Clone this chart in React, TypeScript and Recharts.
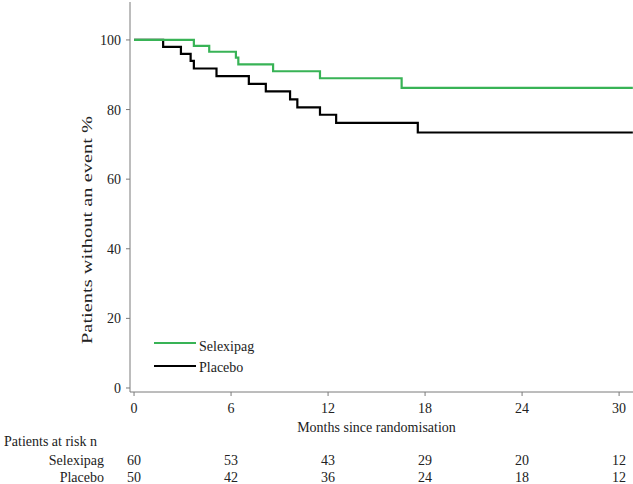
import { LineChart, Line, XAxis, YAxis, Legend } from "recharts";

// Kaplan-Meier steps (months, % without event)
const selexipagTimes = [0, 3.7, 4.65, 6.3, 6.45, 8.6, 11.5, 16.55, 30.85];
const selexipagSurv = [100, 98.3, 96.6, 94.9, 93.0, 91.0, 89.0, 86.2, 86.2];

const placeboTimes = [0, 1.8, 2.9, 3.5, 3.7, 5.1, 7.1, 8.15, 9.65, 10.1, 11.5, 12.5, 17.55, 30.85];
const placeboSurv = [100, 98, 96, 94, 91.8, 89.6, 87.4, 85.2, 82.9, 80.6, 78.5, 76.2, 73.4, 73.4];

const seriesNames = ["Selexipag", "Placebo"];
const monthTicks = [0, 6, 12, 18, 24, 30];
const yTicks = [0, 20, 40, 60, 80, 100];
const selexipagAtRisk = [60, 53, 43, 29, 20, 12];
const placeboAtRisk = [50, 42, 36, 24, 18, 12];

const GREEN = "#38b356";
const AXIS = "#7a7a7a";
const TEXT = "#222";
const FONT = "'Liberation Serif', 'Times New Roman', serif";

const selexipagData = selexipagTimes.map((t, i) => ({ t, v: selexipagSurv[i] }));
const placeboData = placeboTimes.map((t, i) => ({ t, v: placeboSurv[i] }));

// x tick with the at-risk counts hung underneath
const MonthTick = (props: any) => {
  const { x, y, payload } = props;
  const idx = monthTicks.indexOf(payload.value);
  return (
    <g fontFamily={FONT} fontSize={14} fill={TEXT}>
      <text x={x} y={y} dy="0.71em" textAnchor="middle">
        {payload.value}
      </text>
      <text x={x} y={y + 62} textAnchor="middle">
        {selexipagAtRisk[idx]}
      </text>
      <text x={x} y={y + 79} textAnchor="middle">
        {placeboAtRisk[idx]}
      </text>
    </g>
  );
};

const renderLegend = (props: any) => {
  const items = [...(props.payload || [])].sort(
    (a: any, b: any) => seriesNames.indexOf(a.value) - seriesNames.indexOf(b.value)
  );
  return (
    <svg width={130} height={45}>
      {items.map((entry: any, i: number) => (
        <g key={entry.value}>
          <line
            x1={4}
            x2={46}
            y1={9 + i * 23}
            y2={9 + i * 23}
            stroke={entry.color}
            strokeWidth={2.2}
          />
          <text
            x={49}
            y={17 + i * 21}
            fontFamily={FONT}
            fontSize={14}
            fill={TEXT}
          >
            {entry.value}
          </text>
        </g>
      ))}
    </svg>
  );
};

const YLabel = (props: any) => {
  const { viewBox } = props;
  const cx = viewBox.x + 92;
  const cy = viewBox.y + viewBox.height / 2 + 33;
  return (
    <text
      x={cx}
      y={cy}
      transform={`rotate(-90, ${cx}, ${cy})`}
      textAnchor="middle"
      fontFamily={FONT}
      fontSize={15}
      textLength={228}
      lengthAdjust="spacingAndGlyphs"
      fill={TEXT}
    >
      Patients without an event %
    </text>
  );
};

export default function App() {
  return (
    <div
      style={{
        position: "absolute",
        left: 0,
        top: 0,
        width: 633,
        height: 484,
        background: "#fff",
        fontFamily: FONT,
      }}
    >
      <LineChart
        width={633}
        height={484}
        margin={{ top: 2, right: 0, bottom: 0, left: 0 }}
      >
        <XAxis
          type="number"
          dataKey="t"
          domain={[-0.25, 30.86]}
          allowDataOverflow
          ticks={monthTicks}
          height={92}
          tick={<MonthTick />}
          tickSize={4}
          tickMargin={7}
          stroke={AXIS}
          interval={0}
          label={{
            value: "Months since randomisation",
            position: "insideBottom",
            offset: 52,
            dx: -5,
            fontFamily: FONT,
            fontSize: 14,
            fill: TEXT,
          }}
        />
        <YAxis
          type="number"
          domain={[-1.15, 110.9]}
          allowDataOverflow
          ticks={yTicks}
          width={130}
          tickSize={4}
          tickMargin={5}
          stroke={AXIS}
          tick={{ fontFamily: FONT, fontSize: 14, fill: TEXT }}
          label={<YLabel />}
        />
        <Legend
          layout="horizontal"
          verticalAlign="middle"
          align="center"
          content={renderLegend}
          wrapperStyle={{ left: 150, top: 334, width: 130, height: 45 }}
        />
        <Line
          name="Placebo"
          data={placeboData}
          dataKey="v"
          type="stepAfter"
          stroke="#000"
          strokeWidth={2.2}
          dot={false}
          activeDot={false}
          isAnimationActive={false}
        />
        <Line
          name="Selexipag"
          data={selexipagData}
          dataKey="v"
          type="stepAfter"
          stroke={GREEN}
          strokeWidth={2.2}
          dot={false}
          activeDot={false}
          isAnimationActive={false}
        />
      </LineChart>
      <svg
        width={633}
        height={484}
        style={{ position: "absolute", left: 0, top: 0, pointerEvents: "none" }}
        fontFamily={FONT}
        fontSize={14}
        fill={TEXT}
      >
        <text x={4} y={446}>
          Patients at risk n
        </text>
        <text x={104} y={465} textAnchor="end">
          Selexipag
        </text>
        <text x={104} y={482} textAnchor="end">
          Placebo
        </text>
      </svg>
    </div>
  );
}
